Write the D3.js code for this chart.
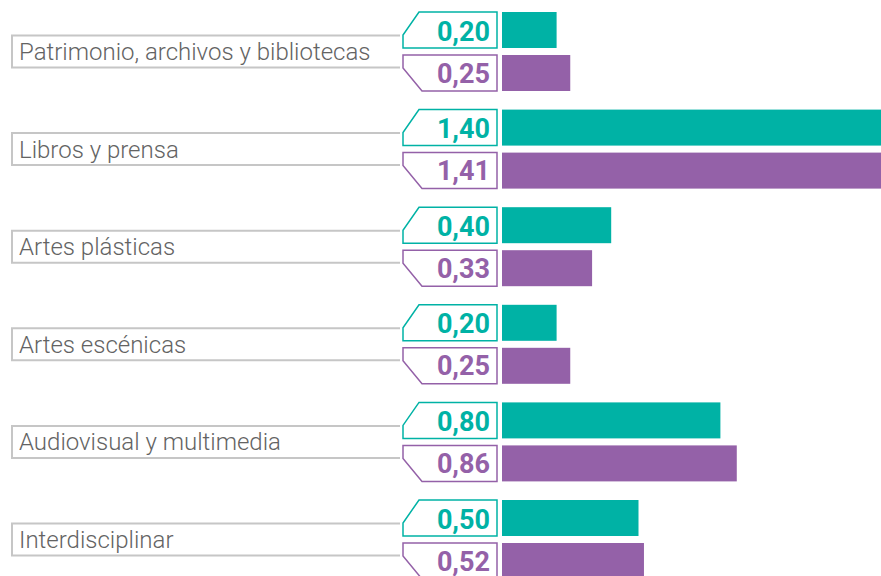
<!DOCTYPE html>
<html>
<head>
<meta charset="utf-8">
<script src="https://cdn.jsdelivr.net/npm/d3@7"></script>
<style>
    body { margin: 0; background: #fff; }
    svg { display: block; }
</style>
</head>
<body>
<div id="chart"></div>
<script>
(function () {
    // data
    var categories = ["Patrimonio, archivos y bibliotecas", "Libros y prensa", "Artes plásticas",
        "Artes escénicas", "Audiovisual y multimedia", "Interdisciplinar"];
    var seriesA = [0.20, 1.40, 0.40, 0.20, 0.80, 0.50];   // teal
    var seriesB = [0.25, 1.41, 0.33, 0.25, 0.86, 0.52];   // purple

    var width = 881, height = 576;
    var teal = "#00b2a5", purple = "#9461a8";
    var barX = 502, boxLeft = 403, boxRight = 497;

    var svg = d3.select("#chart").append("svg")
        .attr("width", width)
        .attr("height", height);

    var y = d3.scaleBand()
        .domain(categories)
        .range([12, 12 + 6 * 97.6]);

    var ySub = d3.scaleBand()
        .domain(["a", "b"])
        .range([0, 79])
        .paddingInner(0.163);

    var x = d3.scaleLinear()
        .domain([0, 1])
        .range([0, 273]);

    var fmt = function (v) { return d3.format(".2f")(v).replace(".", ","); };

    var rows = categories.map(function (c, i) {
        return { name: c, a: seriesA[i], b: seriesB[i] };
    });

    var g = svg.selectAll(".group")
        .data(rows)
        .enter().append("g")
        .attr("class", "group")
        .attr("transform", function (d) { return "translate(0," + y(d.name) + ")"; });

    // category label box (open on the right)
    var mid = (ySub("a") + ySub("b") + ySub.bandwidth()) / 2;
    g.append("path")
        .attr("d", "M400," + (mid - 16) + "L12," + (mid - 16) + "L12," + (mid + 16) + "L400," + (mid + 16))
        .attr("fill", "none")
        .attr("stroke", "#c6c6c6")
        .attr("stroke-width", 2);

    g.append("text")
        .attr("x", 19)
        .attr("y", mid + 8.5)
        .style("font-family", "Roboto")
        .style("font-weight", 300)
        .style("font-size", "24px")
        .attr("fill", "#636363")
        .text(function (d) { return d.name; });

    // bars
    var series = [
        { key: "a", color: teal },
        { key: "b", color: purple }
    ];

    series.forEach(function (s) {
        var top = ySub(s.key), bot = top + ySub.bandwidth();

        g.append("rect")
            .attr("x", barX)
            .attr("y", top)
            .attr("height", ySub.bandwidth())
            .attr("width", function (d) { return x(d[s.key]); })
            .attr("fill", s.color);

        // value tag with chamfered corner
        var p;
        if (s.key === "a") {
            p = "M" + boxRight + "," + top + "L" + (boxLeft + 16) + "," + top + "L" + boxLeft + "," + (top + 23)
                + "L" + boxLeft + "," + bot + "L" + boxRight + "," + bot + "Z";
        } else {
            p = "M" + boxRight + "," + top + "L" + boxLeft + "," + top + "L" + boxLeft + "," + (bot - 23)
                + "L" + (boxLeft + 19) + "," + bot + "L" + boxRight + "," + bot + "Z";
        }
        g.append("path")
            .attr("d", p)
            .attr("fill", "#fff")
            .attr("stroke", s.color)
            .attr("stroke-width", 1.5);

        g.append("text")
            .attr("x", 490)
            .attr("y", top + (s.key === "a" ? 28.5 : 27.5))
            .style("text-anchor", "end")
            .style("font-family", "Roboto")
            .style("font-weight", 700)
            .style("font-size", "27px")
            .attr("fill", s.color)
            .text(function (d) { return fmt(d[s.key]); });
    });
})();
</script>
</body>
</html>
